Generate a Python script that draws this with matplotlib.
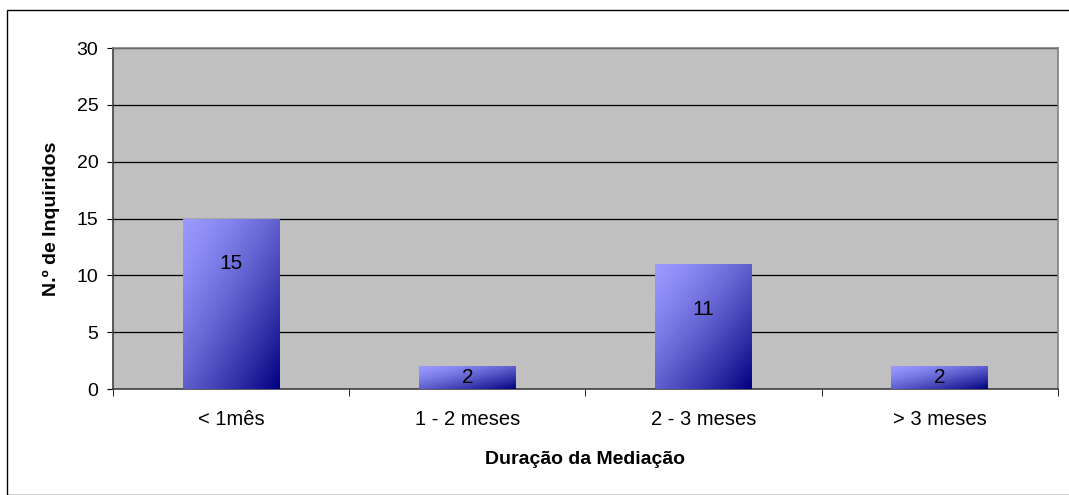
"""Bar chart: Duração da Mediação vs N.º de Inquiridos."""
import matplotlib

matplotlib.use("Agg")
import matplotlib.pyplot as plt
import numpy as np
from matplotlib.patches import Rectangle

categories = ["< 1mês", "1 - 2 meses", "2 - 3 meses", "> 3 meses"]
counts = [15, 2, 11, 2]
y_ticks = [0, 5, 10, 15, 20, 25, 30]

plt.rcParams["font.family"] = ["Liberation Sans", "DejaVu Sans"]

fig = plt.figure(figsize=(10.69, 4.95), dpi=100)
ax = fig.add_axes([0.1057, 0.2141, 0.884, 0.6889])
ax.set_facecolor("#c0c0c0")

x = np.arange(len(categories))
bars = ax.bar(x, counts, width=0.41, color="none", zorder=3)

# diagonal gradient: light periwinkle top-left -> navy bottom-right
light = np.array([0.60, 0.60, 1.0])
dark = np.array([0.0, 0.0, 0.50])
gy, gx = np.mgrid[0:1:200j, 0:1:200j]
t = np.clip((gx + gy) / 2.0, 0, 1) ** 1.4
grad = light[None, None, :] * (1 - t[..., None]) + dark[None, None, :] * t[..., None]

for b in bars:
    x0, w, h = b.get_x(), b.get_width(), b.get_height()
    im = ax.imshow(grad, extent=[x0, x0 + w, 0, h], origin="upper",
                   aspect="auto", zorder=3, interpolation="bilinear")
    clip = Rectangle((x0, 0), w, h, transform=ax.transData)
    im.set_clip_path(clip)

for xi, v in zip(x, counts):
    ax.text(xi, max(v - 4.0, v / 2), str(v), ha="center", va="center",
            fontsize=15, color="black", zorder=5)

ax.set_xlim(-0.5, len(categories) - 0.5)
ax.set_ylim(0, 30)
ax.set_yticks(y_ticks)
ax.tick_params(axis="y", labelsize=14, length=4.5, direction="out",
               color="black", pad=6)
ax.yaxis.grid(True, color="black", linewidth=0.9, zorder=1)
ax.set_axisbelow(True)

ax.set_xticks(x)
ax.set_xticklabels(categories, fontsize=14.5)
ax.set_xticks(np.arange(-0.5, len(categories)), minor=True)
ax.tick_params(axis="x", which="major", length=0, pad=15)
ax.tick_params(axis="x", which="minor", length=5, direction="out", color="black")

for side in ("left", "bottom"):
    ax.spines[side].set_color("#404040")
    ax.spines[side].set_linewidth(1.2)
for side in ("top", "right"):
    ax.spines[side].set_color("#808080")
    ax.spines[side].set_linewidth(1.2)

ax.set_ylabel("N.º de Inquiridos", fontsize=14, fontweight="bold", labelpad=12)
ax.set_xlabel("Duração da Mediação", fontsize=14, fontweight="bold", labelpad=16)

# outer chart border
fig.patches.append(Rectangle((7 / 1069, 0), 1.2, 1 - 10 / 495,
                             transform=fig.transFigure, fill=False,
                             edgecolor="black", linewidth=1.0))

fig.savefig("out.png", dpi=100)
